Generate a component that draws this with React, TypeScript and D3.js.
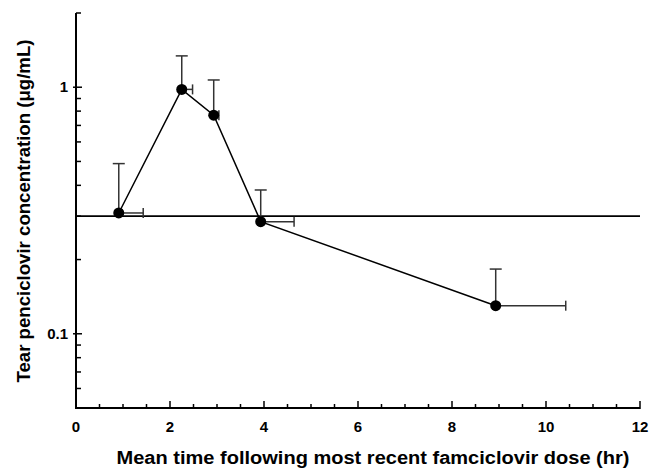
import React, { useEffect, useRef } from 'react';
import * as d3 from 'd3';

// mean time after dose (hr), tear penciclovir (ug/mL), and upper error ends
const times = [0.91, 2.25, 2.93, 3.93, 8.93];
const conc = [0.309, 0.98, 0.77, 0.285, 0.13];
const concUpper = [0.49, 1.34, 1.07, 0.383, 0.183];
const timeUpper = [1.43, 2.48, 3.04, 4.64, 10.42];
const refLevel = 0.3;

const xMajorTicks = [0, 2, 4, 6, 8, 10, 12];
const xMinorTicks = [0.5, 1, 1.5, 2.5, 3, 3.5, 4.5, 5, 5.5, 6.5, 7, 7.5, 8.5, 9, 9.5, 10.5, 11, 11.5];
const yMajorTicks = [0.1, 1];
const yMinorTicks = [0.06, 0.07, 0.08, 0.09, 0.2, 0.3, 0.4, 0.5, 0.6, 0.7, 0.8, 0.9, 2];

const App = () => {
  const ref = useRef<SVGSVGElement>(null);

  useEffect(() => {
    const width = 649;
    const height = 468;
    const margin = { top: 13, right: 9, bottom: 60, left: 76 };
    const w = width - margin.left - margin.right;
    const h = height - margin.top - margin.bottom;
    const font = 'Arial, "Liberation Sans", sans-serif';

    const root = d3.select(ref.current);
    root.selectAll('*').remove();
    const svg = root.append('g').attr('transform', `translate(${margin.left},${margin.top})`);

    const x = d3.scaleLinear().domain([0, 12]).range([0, w]);
    const y = d3.scaleLog().domain([0.05, 2]).range([h, 0]);

    // ticks, drawn inward
    svg.selectAll('.xminor').data(xMinorTicks).enter().append('line')
      .attr('x1', d => x(d)).attr('x2', d => x(d))
      .attr('y1', h).attr('y2', h - 4)
      .attr('stroke', '#000').attr('stroke-width', 1.5);
    svg.selectAll('.xmajor').data(xMajorTicks).enter().append('line')
      .attr('x1', d => x(d)).attr('x2', d => x(d))
      .attr('y1', h + 1).attr('y2', h - 7)
      .attr('stroke', '#000').attr('stroke-width', 1.5);
    svg.selectAll('.xlab').data(xMajorTicks).enter().append('text')
      .attr('x', d => x(d)).attr('y', h + 24)
      .attr('text-anchor', 'middle')
      .attr('font-family', font).attr('font-weight', 'bold').attr('font-size', 15)
      .text(d => d);

    svg.selectAll('.yminor').data(yMinorTicks).enter().append('line')
      .attr('x1', 0).attr('x2', 5)
      .attr('y1', d => y(d)).attr('y2', d => y(d))
      .attr('stroke', '#000').attr('stroke-width', 1.5);
    svg.selectAll('.ymajor').data(yMajorTicks).enter().append('line')
      .attr('x1', -3).attr('x2', 6)
      .attr('y1', d => y(d)).attr('y2', d => y(d))
      .attr('stroke', '#000').attr('stroke-width', 1.5);
    svg.selectAll('.ylab').data(yMajorTicks).enter().append('text')
      .attr('x', -8).attr('y', d => y(d) + 5)
      .attr('text-anchor', 'end')
      .attr('font-family', font).attr('font-weight', 'bold').attr('font-size', 15)
      .text(d => d);

    // axes
    svg.append('path')
      .attr('d', `M0,0V${h}H${w}`)
      .attr('fill', 'none').attr('stroke', '#000').attr('stroke-width', 2);

    // reference line
    svg.append('line')
      .attr('x1', 0).attr('x2', w)
      .attr('y1', y(refLevel)).attr('y2', y(refLevel))
      .attr('stroke', '#000').attr('stroke-width', 1.6);

    const pts = times.map((t, i) => ({ t, c: conc[i], cu: concUpper[i], tu: timeUpper[i] }));

    // error bars
    const eb = svg.append('g').attr('stroke', '#333').attr('stroke-width', 1.5);
    pts.forEach(p => {
      eb.append('line').attr('x1', x(p.t)).attr('x2', x(p.t)).attr('y1', y(p.c)).attr('y2', y(p.cu));
      eb.append('line').attr('x1', x(p.t) - 6).attr('x2', x(p.t) + 6).attr('y1', y(p.cu)).attr('y2', y(p.cu));
      eb.append('line').attr('x1', x(p.t)).attr('x2', x(p.tu)).attr('y1', y(p.c)).attr('y2', y(p.c));
      eb.append('line').attr('x1', x(p.tu)).attr('x2', x(p.tu)).attr('y1', y(p.c) - 5).attr('y2', y(p.c) + 5);
    });

    const line = d3.line<typeof pts[0]>().x(d => x(d.t)).y(d => y(d.c));
    svg.append('path').datum(pts)
      .attr('fill', 'none').attr('stroke', '#000').attr('stroke-width', 1.5)
      .attr('d', line);

    svg.selectAll('.dot').data(pts).enter().append('circle')
      .attr('cx', d => x(d.t)).attr('cy', d => y(d.c)).attr('r', 5.5)
      .attr('fill', '#000');

    // axis titles
    svg.append('text')
      .attr('x', 297).attr('y', h + 56)
      .attr('text-anchor', 'middle')
      .attr('font-family', font).attr('font-weight', 'bold').attr('font-size', 18)
      .attr('textLength', 513).attr('lengthAdjust', 'spacingAndGlyphs')
      .text('Mean time following most recent famciclovir dose (hr)');
    svg.append('text')
      .attr('transform', `translate(${-46},${198}) rotate(-90)`)
      .attr('text-anchor', 'middle')
      .attr('font-family', font).attr('font-weight', 'bold').attr('font-size', 17.5)
      .attr('textLength', 343).attr('lengthAdjust', 'spacingAndGlyphs')
      .text('Tear penciclovir concentration (μg/mL)');
  }, []);

  return <svg ref={ref} width={649} height={468} style={{ position: 'absolute', left: 0, top: 0 }} />;
};

export default App;
